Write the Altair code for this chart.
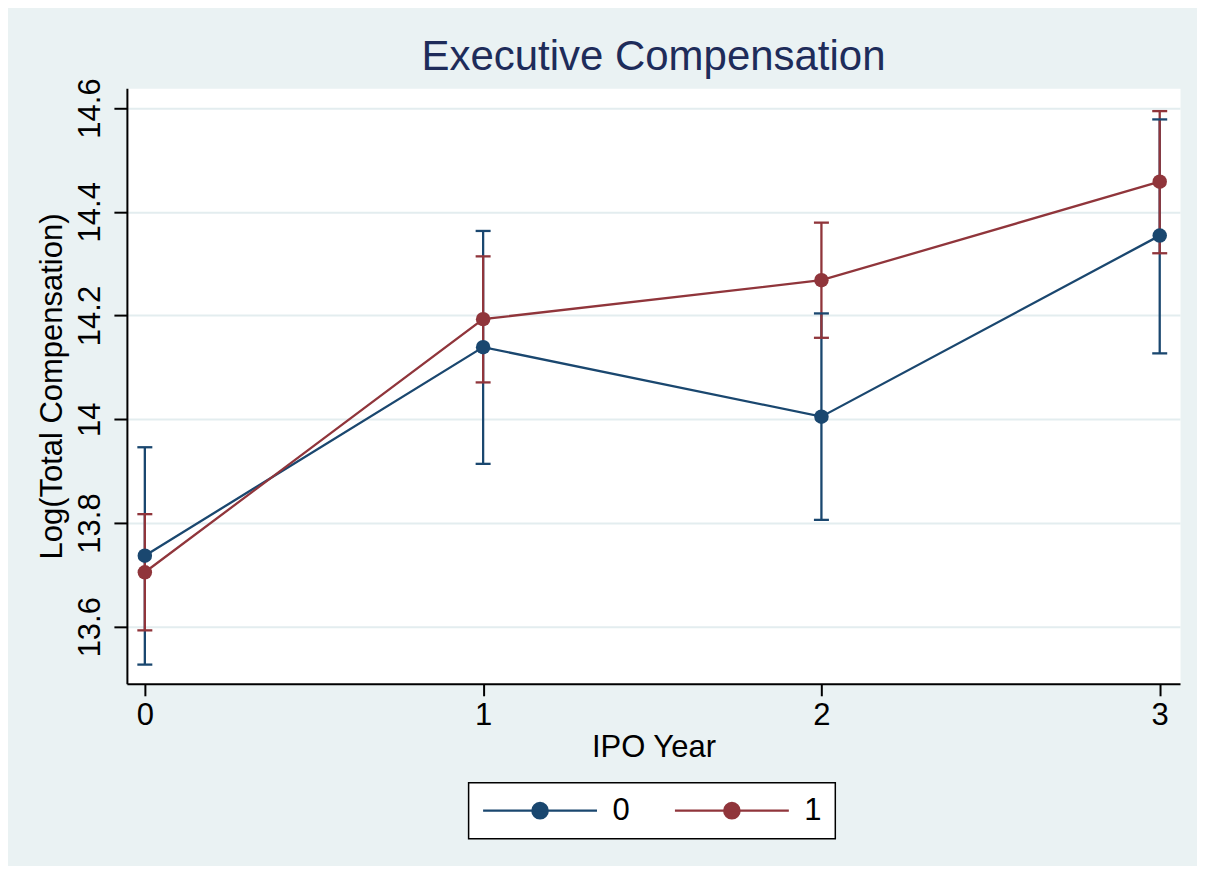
import altair as alt
import pandas as pd

# ---- data ----
years = [0, 1, 2, 3]
groups = ["0", "1"]
mean_0 = [13.737, 14.139, 14.005, 14.354]
lo_0 = [13.527, 13.914, 13.806, 14.127]
hi_0 = [13.946, 14.363, 14.204, 14.578]
mean_1 = [13.705, 14.193, 14.268, 14.458]
lo_1 = [13.593, 14.071, 14.157, 14.320]
hi_1 = [13.817, 14.314, 14.379, 14.594]

colors = ["#1a476f", "#90353b"]
y_ticks = [13.6, 13.8, 14.0, 14.2, 14.4, 14.6]
x_ticks = [0, 1, 2, 3]

rows = []
for g, m, lo, hi in ((groups[0], mean_0, lo_0, hi_0), (groups[1], mean_1, lo_1, hi_1)):
    for yr, a, b, c in zip(years, m, lo, hi):
        rows.append({"year": yr, "group": g, "mean": a, "lo": b, "hi": c})
df = pd.DataFrame(rows)

FONT = "Liberation Sans"

xscale = alt.Scale(domain=[-0.053, 3.06], nice=False, zero=False)
yscale = alt.Scale(domain=[13.49, 14.638], nice=False, zero=False)

xaxis = alt.Axis(values=x_ticks, format="d", labelPadding=5, tickSize=12, grid=False,
                 title="IPO Year", titleY=73, titleBaseline="alphabetic", labelFlush=False)
yaxis = alt.Axis(values=y_ticks, format=".1~f", labelAngle=270, labelAlign="center",
                 labelBaseline="alphabetic", labelPadding=14, tickSize=13, grid=True,
                 gridColor="#e3edef", gridWidth=2, title="Log(Total Compensation)",
                 titleAngle=270, titleX=-65, titleY=298, titleAlign="center",
                 titleBaseline="alphabetic", labelOverlap=False, labelFlush=False)

legend_symbol = "M-1,0H1M0.135,0A0.135,0.135,0,1,1,-0.135,0A0.135,0.135,0,1,1,0.135,0Z"
legend = alt.Legend(orient="none", legendX=342, legendY=695, direction="horizontal",
                    title=None, symbolType=legend_symbol, symbolSize=12996,
                    symbolStrokeWidth=2.3, clipHeight=30, labelFontSize=31, labelFont=FONT,
                    labelColor="black", labelOffset=14, columnPadding=43, padding=13,
                    strokeColor="black", fillColor="white", symbolOpacity=1)

color = alt.Color("group:N", scale=alt.Scale(domain=groups, range=colors), legend=legend)

base = alt.Chart(df)
X = alt.X("year:Q", scale=xscale, axis=xaxis)

ci = base.mark_rule(strokeWidth=2.3).encode(
    x=X, y=alt.Y("lo:Q", scale=yscale, axis=yaxis), y2="hi:Q", color=color)

caps = base.transform_fold(["lo", "hi"], as_=["end", "val"]).mark_tick(
    orient="horizontal", size=15, thickness=2.3, opacity=1).encode(
    x=X, y=alt.Y("val:Q", scale=yscale, axis=yaxis), color=color)

layers = [ci, caps]
for g in groups:
    sub = base.transform_filter(alt.datum.group == g)
    layers.append(sub.mark_line(strokeWidth=2.3).encode(
        x=X, y=alt.Y("mean:Q", scale=yscale, axis=yaxis), color=color))
    layers.append(sub.mark_point(filled=True, size=210, opacity=1).encode(
        x=X, y=alt.Y("mean:Q", scale=yscale, axis=yaxis), color=color))

chart = alt.layer(*layers).properties(
    width=1054, height=596,
    autosize=alt.AutoSizeParams(type="none"),
    padding={"left": 119, "top": 80, "right": 17, "bottom": 182},
    background="#eaf2f3",
    title=alt.Title("Executive Compensation", fontSize=42, font=FONT, fontWeight="normal",
                    color="#1e2c5a", anchor="middle", baseline="alphabetic", offset=17,
                    dy=51, frame="group"),
).configure_view(fill="white", stroke="transparent").configure_axis(
    domainColor="black", domainWidth=2, tickColor="black", tickWidth=2,
    labelColor="black", titleColor="black", labelFont=FONT, titleFont=FONT,
    labelFontSize=31, titleFontSize=31, titleFontWeight="normal"
).configure_legend(strokeWidth=1.5)

chart.save("out.html", embed_options={"renderer": "svg", "actions": False})
